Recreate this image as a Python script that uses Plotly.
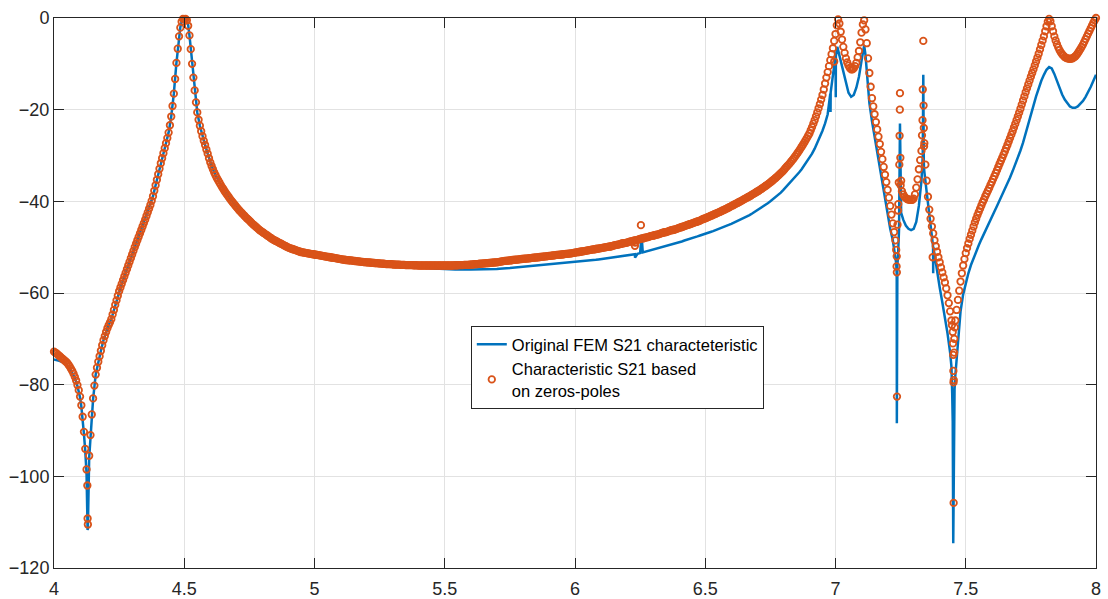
import plotly.graph_objects as go

# ---------------- data ----------------
# Characteristic S21 based on zeros-poles (dB), uniform grid 4.000 ... 8.000, step 0.005
zp_start = 4.0
zp_step = 0.005
zp_s21_grid = [
    # 4.0
    -72.8, -73.0, -73.2, -73.45, -73.7, -73.95, -74.2, -74.45, -74.7, -74.95,
    -75.2, -75.6, -76.0, -76.5, -77.0, -77.6, -78.3, -79.1, -80.1, -81.2,
    # 4.1
    -82.6, -84.5, -87.0, -90.3, -94.0, -98.5, -110.5, -95.5, -91.0, -86.5,
    -83.0, -80.2, -77.8, -76.3, -75.0, -73.8, -72.6, -71.4, -70.3, -69.4,
    # 4.2
    -68.5, -67.7, -67.0, -66.4, -65.7, -64.7, -63.7, -62.6, -61.6, -60.6,
    -59.6, -58.8, -58.0, -57.2, -56.4, -55.6, -54.8, -54.0, -53.2, -52.4,
    # 4.3
    -51.6, -50.8, -50.0, -49.25, -48.5, -47.75, -47.0, -46.25, -45.5, -44.75,
    -44.0, -43.2, -42.4, -41.6, -40.8, -39.9, -38.9, -37.7, -36.5, -35.3,
    # 4.4
    -34.1, -32.9, -31.7, -30.6, -29.5, -28.4, -27.3, -26.2, -25.0, -23.4,
    -21.5, -19.2, -16.5, -13.3, -9.8, -6.7, -4.0, -2.1, -0.8, -0.2,
    # 4.5
    -0.3, -0.2, -0.5, -1.7, -3.8, -6.8, -10.0, -13.0, -15.8, -18.4,
    -20.6, -22.2, -23.5, -24.7, -25.8, -26.8, -27.7, -28.7, -29.6, -30.6,
    # 4.6
    -31.5, -32.3, -33.0, -33.7, -34.3, -34.9, -35.4, -35.9, -36.4, -36.9,
    -37.3, -37.8, -38.2, -38.6, -39.0, -39.4, -39.8, -40.15, -40.5, -40.85,
    # 4.7
    -41.2, -41.55, -41.9, -42.2, -42.5, -42.8, -43.1, -43.4, -43.7, -43.95,
    -44.2, -44.5, -44.8, -45.05, -45.3, -45.55, -45.8, -46.05, -46.3, -46.5,
    # 4.8
    -46.7, -46.9, -47.1, -47.3, -47.5, -47.7, -47.9, -48.1, -48.3, -48.45,
    -48.6, -48.75, -48.9, -49.05, -49.2, -49.35, -49.5, -49.65, -49.8, -49.95,
    # 4.9
    -50.1, -50.2, -50.3, -50.4, -50.5, -50.6, -50.7, -50.8, -50.9, -51.0,
    -51.1, -51.15, -51.2, -51.25, -51.3, -51.35, -51.4, -51.45, -51.5, -51.55,
    # 5.0
    -51.6, -51.65, -51.7, -51.75, -51.8, -51.85, -51.9, -51.95, -52.0, -52.05,
    -52.1, -52.15, -52.2, -52.25, -52.3, -52.35, -52.4, -52.45, -52.5, -52.55,
    # 5.1
    -52.6, -52.65, -52.7, -52.75, -52.8, -52.82, -52.85, -52.88, -52.9, -52.95,
    -53.0, -53.02, -53.05, -53.08, -53.1, -53.15, -53.2, -53.22, -53.25, -53.28,
    # 5.2
    -53.3, -53.32, -53.35, -53.38, -53.4, -53.42, -53.45, -53.48, -53.5, -53.52,
    -53.55, -53.58, -53.6, -53.62, -53.65, -53.68, -53.7, -53.7, -53.7, -53.72,
    # 5.3
    -53.75, -53.78, -53.8, -53.8, -53.8, -53.82, -53.85, -53.85, -53.85, -53.88,
    -53.9, -53.9, -53.9, -53.9, -53.9, -53.92, -53.95, -53.95, -53.95, -53.98,
    # 5.4
    -54.0, -54.0, -54.0, -54.0, -54.0, -54.0, -54.0, -54.0, -54.0, -54.0,
    -54.0, -54.0, -54.0, -54.0, -54.0, -54.0, -54.0, -54.0, -54.0, -54.0,
    # 5.5
    -54.0, -54.0, -54.0, -54.0, -54.0, -54.0, -54.0, -53.98, -53.95, -53.95,
    -53.95, -53.92, -53.9, -53.9, -53.9, -53.88, -53.85, -53.85, -53.85, -53.82,
    # 5.6
    -53.8, -53.78, -53.75, -53.72, -53.7, -53.68, -53.65, -53.62, -53.6, -53.58,
    -53.55, -53.52, -53.5, -53.48, -53.45, -53.42, -53.4, -53.38, -53.35, -53.32,
    # 5.7
    -53.3, -53.25, -53.2, -53.15, -53.1, -53.05, -53.0, -52.98, -52.95, -52.92,
    -52.9, -52.85, -52.8, -52.78, -52.75, -52.72, -52.7, -52.65, -52.6, -52.58,
    # 5.8
    -52.55, -52.52, -52.5, -52.48, -52.45, -52.42, -52.4, -52.35, -52.3, -52.28,
    -52.25, -52.22, -52.2, -52.15, -52.1, -52.08, -52.05, -52.02, -52.0, -51.95,
    # 5.9
    -51.9, -51.88, -51.85, -51.82, -51.8, -51.75, -51.7, -51.68, -51.65, -51.62,
    -51.6, -51.55, -51.5, -51.48, -51.45, -51.42, -51.4, -51.35, -51.3, -51.25,
    # 6.0
    -51.2, -51.15, -51.1, -51.05, -51.0, -50.95, -50.9, -50.85, -50.8, -50.75,
    -50.7, -50.65, -50.6, -50.55, -50.5, -50.45, -50.4, -50.35, -50.3, -50.25,
    # 6.1
    -50.2, -50.15, -50.1, -50.05, -50.0, -49.95, -49.9, -49.85, -49.8, -49.7,
    -49.6, -49.55, -49.5, -49.45, -49.4, -49.3, -49.2, -49.15, -49.1, -49.05,
    # 6.2
    -49.0, -48.9, -48.8, -48.75, -48.7, -48.6, -48.5, -48.45, -48.4, -48.3,
    -48.2, -48.15, -48.1, -48.0, -47.9, -47.85, -47.8, -47.7, -47.6, -47.55,
    # 6.3
    -47.5, -47.4, -47.3, -47.25, -47.2, -47.1, -47.0, -46.9, -46.8, -46.75,
    -46.7, -46.6, -46.5, -46.4, -46.3, -46.25, -46.2, -46.1, -46.0, -45.9,
    # 6.4
    -45.8, -45.7, -45.6, -45.5, -45.4, -45.3, -45.2, -45.1, -45.0, -44.9,
    -44.8, -44.7, -44.6, -44.5, -44.4, -44.3, -44.2, -44.05, -43.9, -43.8,
    # 6.5
    -43.7, -43.58, -43.45, -43.32, -43.2, -43.08, -42.95, -42.82, -42.7, -42.58,
    -42.45, -42.32, -42.2, -42.05, -41.9, -41.78, -41.65, -41.5, -41.35, -41.2,
    # 6.6
    -41.05, -40.9, -40.75, -40.6, -40.45, -40.3, -40.15, -40.0, -39.85, -39.68,
    -39.5, -39.35, -39.2, -39.05, -38.9, -38.72, -38.55, -38.38, -38.2, -38.02,
    # 6.7
    -37.85, -37.68, -37.5, -37.3, -37.1, -36.9, -36.7, -36.5, -36.3, -36.08,
    -35.85, -35.62, -35.4, -35.15, -34.9, -34.65, -34.4, -34.12, -33.85, -33.58,
    # 6.8
    -33.3, -32.95, -32.6, -32.3, -32.0, -31.65, -31.3, -30.95, -30.6, -30.2,
    -29.8, -29.4, -29.0, -28.55, -28.1, -27.65, -27.2, -26.7, -26.2, -25.7,
    # 6.9
    -25.2, -24.5, -23.8, -23.05, -22.3, -21.45, -20.6, -19.7, -18.8, -17.8,
    -16.8, -15.6, -14.3, -13.0, -11.8, -10.5, -9.2, -7.9, -6.6, -5.0,
    # 7.0
    -3.5, -1.6, -0.3, -1.2, -3.0, -4.7, -6.3, -7.6, -8.8, -9.7,
    -10.4, -10.9, -11.2, -11.2, -11.0, -10.5, -9.8, -8.6, -7.2, -5.3,
    # 7.1
    -3.2, -1.4, -0.5, -2.5, -5.5, -8.8, -12.0, -15.0, -17.5, -19.3,
    -21.0, -22.7, -24.3, -25.9, -27.5, -29.2, -30.8, -32.5, -34.2, -35.8,
    # 7.2
    -37.5, -39.2, -41.0, -42.9, -44.8, -46.7, -48.5, -52.0, -42.0, -32.0,
    -36.5, -37.8, -38.5, -39.0, -39.3, -39.5, -39.6, -39.65, -39.7, -39.65,
    # 7.3
    -39.4, -38.5, -37.0, -35.2, -33.0, -31.0, -29.0, -15.6, -28.0, -32.0,
    -35.5, -39.0, -41.8, -43.8, -45.5, -47.0, -48.5, -49.8, -51.0, -52.2,
    # 7.4
    -53.3, -54.4, -55.5, -56.6, -57.7, -59.0, -60.5, -62.2, -64.0, -66.0,
    -68.5, -73.0, -66.0, -63.7, -61.5, -59.5, -57.5, -55.7, -54.0, -52.6,
    # 7.5
    -51.3, -50.2, -49.2, -48.2, -47.3, -46.4, -45.5, -44.6, -43.8, -43.0,
    -42.3, -41.6, -40.9, -40.2, -39.6, -38.9, -38.3, -37.7, -37.1, -36.4,
    # 7.6
    -35.8, -35.15, -34.5, -33.85, -33.2, -32.5, -31.8, -31.15, -30.5, -29.8,
    -29.1, -28.4, -27.7, -26.95, -26.2, -25.45, -24.7, -23.9, -23.1, -22.3,
    # 7.7
    -21.5, -20.65, -19.8, -18.9, -18.0, -17.1, -16.2, -15.35, -14.5, -13.65,
    -12.8, -12.0, -11.2, -10.35, -9.5, -8.65, -7.8, -6.85, -5.9, -4.95,
    # 7.8
    -4.0, -2.9, -1.8, -0.8, -0.2, -0.7, -1.8, -2.9, -4.0, -4.9,
    -5.7, -6.4, -7.0, -7.5, -7.9, -8.2, -8.5, -8.7, -8.8, -8.85,
    # 7.9
    -8.9, -8.85, -8.8, -8.6, -8.4, -8.1, -7.7, -7.25, -6.8, -6.3,
    -5.8, -5.2, -4.6, -4.0, -3.4, -2.8, -2.2, -1.6, -1.0, -0.5,
    # 8.0
    0.0,
]

# extra zeros-poles samples at the narrow resonances / spikes
zp_extra_freq = [4.128, 4.129,
                 6.230, 6.231, 6.253,
                 6.995,
                 7.233, 7.2345, 7.2355, 7.236, 7.238, 7.241, 7.243, 7.246, 7.247, 7.2475, 7.249, 7.252,
                 7.332, 7.334, 7.337, 7.338, 7.339, 7.341,
                 7.373,
                 7.447, 7.451, 7.452, 7.4525, 7.453, 7.4535, 7.454, 7.456, 7.458]
zp_extra_s21 = [-102.0, -109.2,
                -49.7, -49.0, -45.2,
                -9.5,
                -50.6, -54.2, -55.5, -82.6, -45.1, -40.6, -35.9, -25.7, -20.0, -16.4, -30.5, -35.5,
                -25.6, -22.3, -5.0, -19.1, -24.0, -27.3,
                -52.2,
                -67.0, -71.0, -73.5, -77.0, -79.5, -105.8, -79.0, -70.0, -67.5]

# Original FEM S21 characteristic (dB), uniform grid 4.00 ... 8.00, step 0.01
fem_start = 4.0
fem_step = 0.01
fem_s21_grid = [
    -74.5, -74.6, -74.8, -75.0, -75.3, -75.7, -76.4, -77.3, -78.5, -80.3,
    -82.8, -87.3, -94.5, -111.3, -91.5, -83.2, -77.8, -75.0, -72.6, -70.3,
    -68.5, -67.0, -65.7, -63.7, -61.6, -59.6, -58.0, -56.4, -54.8, -53.2,
    -51.6, -50.0, -48.5, -47.0, -45.5, -44.0, -42.4, -40.8, -38.9, -36.5,
    -34.1, -31.7, -29.5, -27.3, -25.0, -21.5, -16.5, -9.8, -4.0, -0.8,
    -0.3, -0.5, -3.8, -10.0, -15.8, -20.6, -23.5, -25.8, -27.7, -29.6,
    -31.5, -33.0, -34.3, -35.4, -36.4, -37.3, -38.2, -39.0, -39.8, -40.5,
    -41.2, -41.9, -42.5, -43.1, -43.7, -44.2, -44.8, -45.3, -45.8, -46.3,
    -46.7, -47.1, -47.5, -47.9, -48.3, -48.6, -48.9, -49.2, -49.5, -49.8,
    -50.1, -50.3, -50.5, -50.7, -50.9, -51.1, -51.2, -51.3, -51.4, -51.5,
    -51.6, -51.7, -51.8, -51.9, -52.0, -52.1, -52.2, -52.3, -52.4, -52.5,
    -52.6, -52.7, -52.8, -52.85, -52.9, -53.0, -53.05, -53.1, -53.2, -53.25,
    -53.4, -53.45, -53.5, -53.6, -53.65, -53.7, -53.75, -53.8, -53.9, -53.95,
    -54.0, -54.05, -54.1, -54.15, -54.2, -54.25, -54.3, -54.35, -54.4, -54.4,
    -54.45, -54.5, -54.5, -54.55, -54.6, -54.6, -54.65, -54.7, -54.7, -54.75,
    -54.8, -54.8, -54.8, -54.85, -54.85, -54.85, -54.9, -54.9, -54.9, -54.9,
    -54.9, -54.9, -54.9, -54.9, -54.85, -54.85, -54.85, -54.8, -54.8, -54.8,
    -54.75, -54.7, -54.7, -54.65, -54.6, -54.55, -54.5, -54.45, -54.4, -54.35,
    -54.3, -54.25, -54.2, -54.15, -54.1, -54.05, -54.0, -53.95, -53.9, -53.85,
    -53.8, -53.75, -53.7, -53.65, -53.6, -53.55, -53.5, -53.45, -53.4, -53.35,
    -53.3, -53.23, -53.16, -53.09, -53.02, -52.95, -52.88, -52.81, -52.74, -52.67,
    -52.6, -52.52, -52.44, -52.36, -52.28, -52.2, -52.12, -52.04, -51.96, -51.88,
    -51.8, -51.71, -51.62, -51.53, -51.44, -51.3, -51.15, -51.0, -50.85, -50.7,
    -50.55, -50.4, -50.25, -50.1, -49.95, -49.8, -49.6, -49.45, -49.25, -49.1,
    -48.9, -48.75, -48.55, -48.4, -48.2, -48.0, -47.85, -47.65, -47.45, -47.3,
    -47.1, -46.9, -46.7, -46.5, -46.3, -46.1, -45.9, -45.65, -45.4, -45.15,
    -44.9, -44.65, -44.4, -44.1, -43.85, -43.55, -43.3, -43.0, -42.65, -42.3,
    -41.95, -41.6, -41.2, -40.8, -40.4, -40.0, -39.55, -39.1, -38.6, -38.1,
    -37.5, -36.9, -36.3, -35.7, -35.1, -34.4, -33.7, -33.0, -32.2, -31.4,
    -30.6, -29.6, -28.5, -27.3, -26.0, -24.6, -23.0, -21.0, -16.5, -12.5,
    -8.5, -7.0, -9.5, -12.3, -14.5, -16.3, -17.2, -16.8, -15.2, -12.8,
    -9.3, -6.0, -11.5, -18.5, -22.5, -26.0, -29.2, -32.3, -35.5, -39.0,
    -42.5, -46.0, -48.5, -52.0, -52.0, -40.5, -44.0, -45.3, -46.0, -46.3,
    -46.0, -44.5, -41.0, -35.5, -33.0, -38.0, -42.5, -47.0, -51.5, -55.5,
    -58.8, -62.0, -65.3, -68.8, -73.0, -88.0, -78.0, -70.5, -64.0, -60.3,
    -57.8, -55.7, -53.9, -52.3, -50.9, -49.6, -48.3, -47.0, -45.8, -44.6,
    -43.4, -42.2, -41.0, -39.8, -38.6, -37.4, -36.1, -34.8, -33.4, -32.0,
    -30.5, -28.9, -27.2, -25.3, -23.3, -21.2, -19.1, -17.1, -15.3, -13.7,
    -12.4, -11.3, -10.7, -11.0, -12.2, -13.8, -15.3, -16.7, -17.8, -18.7,
    -19.3, -19.6, -19.6, -19.3, -18.8, -18.1, -17.2, -16.2, -15.0, -13.7,
    -12.4,
]

# extra FEM samples at the narrow spikes
fem_extra_freq = [4.105, 4.115, 4.125, 4.129, 4.135, 4.145,
                  4.485, 4.495, 4.505, 4.515,
                  6.2305, 6.2555,
                  6.981, 6.9815, 7.001, 7.0015, 7.007,
                  7.105, 7.115,
                  7.233, 7.235, 7.2355, 7.236, 7.2375, 7.244, 7.2475, 7.249, 7.252,
                  7.335, 7.337, 7.339,
                  7.3745, 7.375, 7.3755,
                  7.445, 7.448, 7.452, 7.455, 7.457]
fem_extra_s21 = [-84.8, -90.8, -99.5, -111.7, -96.0, -87.0,
                 -2.0, -0.2, -0.2, -1.5,
                 -52.3, -47.3,
                 -20.5, -16.2, -17.3, -8.3, -6.3,
                 -7.5, -8.0,
                 -53.5, -56.0, -88.4, -60.0, -54.0, -46.0, -23.0, -38.0, -42.5,
                 -30.0, -12.4, -31.5,
                 -49.8, -55.7, -50.0,
                 -76.0, -82.0, -114.6, -86.0, -81.0]

series_names = ["Original FEM S21 characteteristic",
                "Characteristic S21 based<br>on zeros-poles"]

x_tick_vals = [4, 4.5, 5, 5.5, 6, 6.5, 7, 7.5, 8]
x_tick_text = ["4", "4.5", "5", "5.5", "6", "6.5", "7", "7.5", "8"]
y_tick_vals = [-120, -100, -80, -60, -40, -20, 0]
y_tick_text = ["\u2212120", "\u2212100", "\u221280", "\u221260", "\u221240", "\u221220", "0"]


def merge(start, step, grid_vals, extra_f, extra_v):
    pts = [(round(start + i * step, 4), v) for i, v in enumerate(grid_vals)]
    pts += list(zip(extra_f, extra_v))
    pts.sort(key=lambda p: p[0])
    return [p[0] for p in pts], [p[1] for p in pts]


fem_x, fem_y = merge(fem_start, fem_step, fem_s21_grid, fem_extra_freq, fem_extra_s21)
zp_x, zp_y = merge(zp_start, zp_step, zp_s21_grid, zp_extra_freq, zp_extra_s21)

BLUE = "#0072BD"
ORANGE = "#D95319"
AXC = "#262626"
FONT = "Liberation Sans, Arial, Helvetica, sans-serif"

fig = go.Figure()
fig.add_trace(go.Scatter(
    x=fem_x, y=fem_y, mode="lines", name=series_names[0],
    line=dict(color=BLUE, width=2.5),
))
fig.add_trace(go.Scatter(
    x=zp_x, y=zp_y, mode="markers", name=series_names[1],
    marker=dict(symbol="circle-open", size=6.5, color=ORANGE,
                line=dict(color=ORANGE, width=1.8)),
    cliponaxis=False,
))

axis_common = dict(
    ticks="inside", ticklen=10, tickwidth=1, tickcolor=AXC,
    showline=True, linecolor=AXC, linewidth=1, mirror="ticks",
    showgrid=True, gridcolor="#e2e2e2", gridwidth=1,
    zeroline=False, automargin=False,
    tickfont=dict(family=FONT, size=18, color=AXC),
)

fig.update_layout(
    template="none",
    width=1108, height=599,
    margin=dict(l=54, r=12, t=18, b=31),
    paper_bgcolor="white", plot_bgcolor="white",
    showlegend=True,
    legend=dict(
        x=0.400, y=0.440, xanchor="left", yanchor="top",
        bgcolor="white", bordercolor=AXC, borderwidth=1,
        font=dict(family=FONT, size=16.5, color="black"),
        tracegroupgap=0, itemwidth=30,
    ),
    xaxis=dict(range=[4, 8], tickvals=x_tick_vals, ticktext=x_tick_text,
               ticklabelstandoff=4, **axis_common),
    yaxis=dict(range=[-120, 0], tickvals=y_tick_vals, ticktext=y_tick_text, **axis_common),
)

fig.write_html("out.html", config={"displayModeBar": False},
               post_script="document.body.style.margin='0';")
